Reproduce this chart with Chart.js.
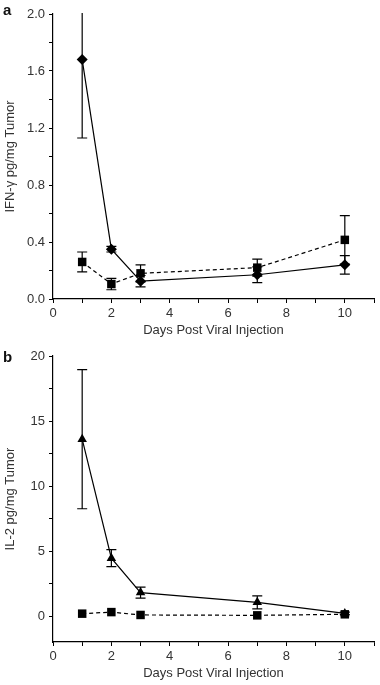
<!DOCTYPE html>
<html>
<head>
<meta charset="utf-8">
<script src="https://cdn.jsdelivr.net/npm/chart.js@4/dist/chart.umd.min.js"></script>
<style>
  body { margin: 0; background: #fff; }
  .panel { position: relative; width: 380px; }
  canvas { display: block; }
  .tag { position: absolute; left: 3px; font: bold 15px "Liberation Sans", Arial, sans-serif; color: #111; }
</style>
</head>
<body>
<div class="panel"><span class="tag" style="top:1px">a</span><canvas id="chartA" width="380" height="342"></canvas></div>
<div class="panel"><span class="tag" style="top:6px">b</span><canvas id="chartB" width="380" height="343"></canvas></div>
<script>
// days the tumors were sampled
const days = [1, 2, 3, 7, 10];

// panel a: IFN-gamma
const ifnDiamond = [1.68, 0.35, 0.125, 0.17, 0.24];
const ifnDiamondErr = [0.55, 0.02, 0.04, 0.055, 0.065];
const ifnSquare = [0.26, 0.105, 0.18, 0.22, 0.415];
const ifnSquareErr = [0.07, 0.04, 0.06, 0.06, 0.17];

// panel b: IL-2
const il2Triangle = [13.6, 4.45, 1.8, 1.05, 0.2];
const il2TriangleErr = [5.35, 0.65, 0.42, 0.5, 0.1];
const il2Square = [0.18, 0.3, 0.08, 0.05, 0.13];
const il2SquareErr = [0, 0, 0, 0, 0];

// tick positions
const xTicks = [0, 1, 2, 3, 4, 5, 6, 7, 8, 9, 10, 11];
const ifnTicks = [0, 0.2, 0.4, 0.6, 0.8, 1.0, 1.2, 1.4, 1.6, 1.8, 2.0];
const il2Ticks = [0, 2.5, 5, 7.5, 10, 12.5, 15, 17.5, 20];

Chart.defaults.font.family = '"Liberation Sans", Arial, sans-serif';
Chart.defaults.color = '#333';

const toPoints = vals => days.map((d, i) => ({ x: d, y: vals[i] }));

// draws vertical error bars with caps, behind the markers
const errorBars = {
  id: 'errorBars',
  beforeDatasetsDraw(chart) {
    const { ctx, chartArea, scales: { x, y } } = chart;
    ctx.save();
    ctx.beginPath();
    ctx.rect(chartArea.left, chartArea.top - 1, chartArea.width, chartArea.height + 1);
    ctx.clip();
    ctx.strokeStyle = '#000';
    ctx.lineWidth = 1.2;
    chart.data.datasets.forEach(ds => {
      if (!ds.errors) return;
      ds.data.forEach((p, i) => {
        const e = ds.errors[i];
        if (!e) return;
        const px = x.getPixelForValue(p.x);
        const top = y.getPixelForValue(p.y + e);
        const bot = y.getPixelForValue(p.y - e);
        ctx.beginPath();
        ctx.moveTo(px, top); ctx.lineTo(px, bot);
        ctx.moveTo(px - 5, top); ctx.lineTo(px + 5, top);
        ctx.moveTo(px - 5, bot); ctx.lineTo(px + 5, bot);
        ctx.stroke();
      });
    });
    ctx.restore();
  }
};

function xScale() {
  return {
    type: 'linear', min: 0, max: 11,
    afterBuildTicks: s => { s.ticks = xTicks.map(v => ({ value: v })); },
    afterFit: s => { s.height = 43; },
    ticks: { autoSkip: false, maxRotation: 0, padding: 3, font: { size: 13 },
      callback: v => (v % 2 === 0 ? v : '') },
    grid: { drawOnChartArea: false, tickLength: 4, tickColor: '#000', color: '#000' },
    border: { color: '#000', width: 1.2 },
    title: { display: true, text: 'Days Post Viral Injection', font: { size: 13 }, padding: { top: 4 } }
  };
}

function yScale(min, max, ticks, fmt, label) {
  return {
    min: min, max: max,
    afterBuildTicks: s => { s.ticks = ticks.map(v => ({ value: v })); },
    afterFit: s => { s.width = 53; },
    ticks: { autoSkip: false, padding: 4, font: { size: 13 },
      callback: (v, i) => (i % 2 === 0 ? fmt(v) : '') },
    grid: { drawOnChartArea: false, tickLength: 4, tickColor: '#000', color: '#000' },
    border: { color: '#000', width: 1.2 },
    title: { display: true, text: label, font: { size: 13 }, padding: { top: 3, bottom: 2 } }
  };
}

function series(vals, errs, style, radius, dashed) {
  return {
    data: toPoints(vals),
    errors: errs,
    borderColor: '#000',
    backgroundColor: '#000',
    borderWidth: 1.2,
    borderDash: dashed ? [4, 3] : [],
    pointStyle: style,
    pointRadius: radius,
    pointBorderWidth: 0,
    pointBackgroundColor: '#000',
    tension: 0,
    clip: false
  };
}

function makeChart(id, datasets, y) {
  return new Chart(document.getElementById(id), {
    type: 'line',
    data: { datasets: datasets },
    options: {
      responsive: false,
      animation: false,
      devicePixelRatio: 1,
      layout: { padding: { top: 14, right: 2, left: 0, bottom: 0 } },
      plugins: { legend: { display: false }, tooltip: { enabled: false } },
      scales: { x: xScale(), y: y }
    },
    plugins: [errorBars]
  });
}

makeChart('chartA', [
  series(ifnDiamond, ifnDiamondErr, 'rectRot', 5.5, false),
  series(ifnSquare, ifnSquareErr, 'rect', 6, true)
], yScale(0, 2, ifnTicks, v => v.toFixed(1), 'IFN-\u03b3 pg/mg Tumor'));

makeChart('chartB', [
  series(il2Triangle, il2TriangleErr, 'triangle', 5.5, false),
  series(il2Square, il2SquareErr, 'rect', 6, true)
], yScale(-2, 20, il2Ticks, v => String(v), 'IL-2 pg/mg Tumor'));
</script>
</body>
</html>
